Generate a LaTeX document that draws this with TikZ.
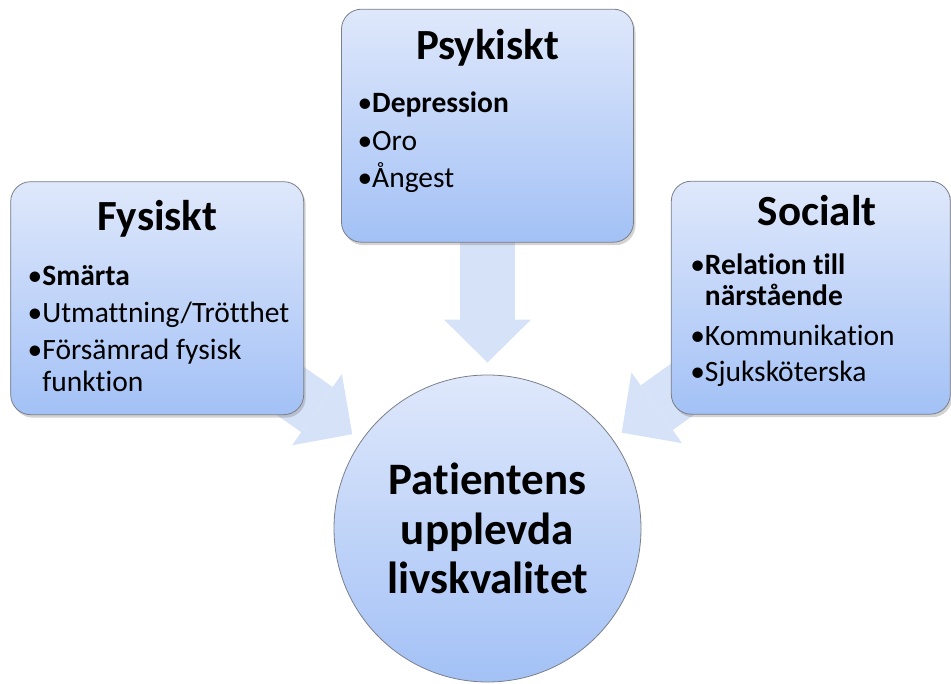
\documentclass[tikz,border=0pt]{standalone}
\usepackage{fontspec}
\setmainfont[Ligatures=NoCommon]{Carlito}
\usetikzlibrary{positioning,arrows.meta,shadows,backgrounds}
\definecolor{boxtop}{HTML}{DFE8FB}
\definecolor{boxbot}{HTML}{A3C1F6}
\definecolor{arrowfill}{HTML}{D6E2F8}
\definecolor{edgegray}{HTML}{7A7F88}
\begin{document}
\begin{tikzpicture}[thick,node distance=37pt,box node/.style={rectangle,rounded corners=20pt,draw=edgegray,top color=boxtop,bottom color=boxbot,minimum height=233pt,inner sep=0pt,drop shadow={shadow xshift=2pt,shadow yshift=-3pt,opacity=0.35}},main node/.style={circle,draw=edgegray,top color=boxtop,bottom color=boxbot,minimum size=307pt,inner sep=0pt,align=center,font=\fontsize{45}{49.5}\selectfont\bfseries},head node/.style={anchor=base,inner sep=0pt,font=\fontsize{43}{48}\selectfont\bfseries},list node/.style={anchor=base west,inner sep=0pt,align=left,font=\fontsize{29.5}{32}\selectfont},fat arrow/.style={draw=arrowfill,line width=55pt,-{Triangle[width=87pt,length=43pt,line width=0pt]}}]
\useasboundingbox (0,0) rectangle (951pt,-684pt);
\node[main node] (4) at (487.5pt,-528.5pt) {Patientens\\upplevda\\livskvalitet};
\node[box node,minimum width=292pt] (2) [above=132pt of 4] {};
\node[box node,minimum width=293pt] (1) [left=of 2,yshift=-172.5pt] {};
\node[box node,minimum width=279pt] (3) [right=of 2,yshift=-172pt] {};
\node[head node] (1a) at ([yshift=-49pt]1.north) {Fysiskt};
\node[list node] (1b) at ([xshift=17pt,yshift=-210pt]1.north west) {•\textbf{Smärta}\\[5pt]•Utmattning/Trötthet\\[5pt]•Försämrad fysisk\\\phantom{•}funktion};
\node[head node] (2a) at ([yshift=-51pt]2.north) {Psykiskt};
\node[list node] (2b) at ([xshift=16pt,yshift=-179pt]2.north west) {•\textbf{Depression}\\[6pt]•Oro\\[5pt]•Ångest};
\node[head node] (3a) at ([xshift=6.5pt,yshift=-45pt]3.north) {Socialt};
\node[list node] (3b) at ([xshift=19pt,yshift=-201pt]3.north west) {•\textbf{Relation till}\\[-1pt]\phantom{•}\textbf{närstående}\\[8pt]•Kommunikation\\[4pt]•Sjuksköterska};
\begin{scope}[on background layer]
\draw[fat arrow,shorten >=11pt] (1.center) -- (4);
\draw[fat arrow,shorten >=12pt] (2.center) -- (4);
\draw[fat arrow,shorten >=11pt] (3.center) -- (4);
\end{scope}
\end{tikzpicture}
\end{document}
